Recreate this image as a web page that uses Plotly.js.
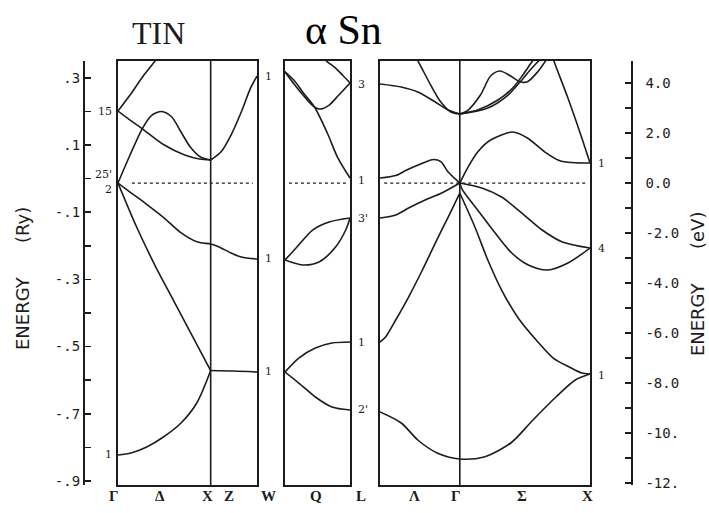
<!DOCTYPE html>
<html>
<head>
<meta charset="utf-8">
<script src="https://cdn.plot.ly/plotly-3.0.1.min.js"></script>
<style>
  body { margin: 0; background: #fff; }
  #plot { width: 709px; height: 513px; }
</style>
</head>
<body>
<div id="plot"></div>
<script>
// band energies in eV (top of valence band = 0), k in units of 2pi/a
// panel 1 : Gamma - Delta - X - Z - W   (X at 1.0, W at 1.5)
var g15up_k = [0, 0.13, 0.28, 0.40, 0.5];
var g15up_E = [2.88, 3.52, 4.32, 4.88, 5.35];
var g15dn_k = [0, 0.13, 0.26, 0.5, 0.72, 0.88, 1.0];
var g15dn_E = [2.88, 2.52, 2.18, 1.52, 1.12, 0.96, 0.92];
var hump_k = [0, 0.13, 0.26, 0.36, 0.47, 0.58, 0.68, 0.78, 0.89, 1.0];
var hump_E = [0, 1.12, 2.16, 2.7, 2.86, 2.64, 2.04, 1.44, 1.04, 0.92];
var zUp_k = [1.0, 1.11, 1.22, 1.33, 1.43, 1.5];
var zUp_E = [0.92, 1.24, 1.92, 2.84, 3.8, 4.28];
var vTop_k = [0, 0.13, 0.32, 0.5, 0.67, 0.86, 1.0, 1.08, 1.22, 1.33, 1.5];
var vTop_E = [0, -0.36, -0.88, -1.4, -1.96, -2.36, -2.44, -2.54, -2.8, -2.96, -3.04];
var vSteep_k = [0, 0.2, 0.4, 0.6, 0.8, 1.0];
var vSteep_E = [0, -1.75, -3.3, -4.7, -6.1, -7.5];
var zFlat_k = [1.0, 1.25, 1.5];
var zFlat_E = [-7.5, -7.52, -7.56];
var dLow_k = [0, 0.14, 0.31, 0.49, 0.68, 0.85, 1.0];
var dLow_E = [-10.88, -10.8, -10.56, -10.16, -9.6, -8.8, -7.5];

// panel 2 : W - Q - L   (L at 0.707)
var qA_k = [0, 0.1, 0.2, 0.32, 0.46, 0.57, 0.707];
var qA_E = [4.45, 4.1, 3.6, 3.04, 2.0, 1.04, 0.2];
var qB_k = [0, 0.1, 0.2, 0.3, 0.38, 0.48, 0.58, 0.707];
var qB_E = [4.45, 3.95, 3.5, 3.1, 2.96, 3.12, 3.5, 4.0];
var qC_k = [0.42, 0.46, 0.55, 0.63, 0.707];
var qC_E = [5.0, 4.85, 4.6, 4.3, 4.0];
var qD_k = [0, 0.13, 0.3, 0.48, 0.707];
var qD_E = [-3.08, -2.56, -1.88, -1.56, -1.4];
var qE_k = [0, 0.19, 0.37, 0.55, 0.66, 0.707];
var qE_E = [-3.08, -3.28, -3.16, -2.56, -1.88, -1.4];
var qF_k = [0, 0.15, 0.33, 0.51, 0.707];
var qF_E = [-7.56, -7.0, -6.6, -6.4, -6.36];
var qG_k = [0, 0.15, 0.33, 0.51, 0.707];
var qG_E = [-7.56, -8.0, -8.56, -8.96, -9.08];

// panel 3 : L - Lambda - Gamma - Sigma - X   (Gamma at 0.866, X at 2.28)
var lc1_k = [0, 0.17, 0.29, 0.48, 0.58, 0.66, 0.74, 0.866];
var lc1_E = [0.2, 0.3, 0.52, 0.82, 0.94, 0.86, 0.44, 0];
var sc1_k = [0.866, 0.95, 1.06, 1.2, 1.44, 1.6, 1.79, 1.96, 2.28];
var sc1_E = [0, 0.6, 1.24, 1.72, 2.04, 1.8, 1.24, 0.88, 0.8];
var lc3_k = [0, 0.23, 0.41, 0.6, 0.74, 0.866];
var lc3_E = [3.96, 3.84, 3.64, 3.24, 2.92, 2.76];
var lc4_k = [0.35, 0.43, 0.55, 0.66, 0.77, 0.866];
var lc4_E = [5.3, 4.76, 3.92, 3.24, 2.84, 2.76];
var sc2_k = [0.866, 0.95, 1.09, 1.2, 1.3, 1.41, 1.52, 1.6, 1.71, 1.8];
var sc2_E = [2.76, 2.9, 3.52, 4.28, 4.48, 4.3, 4.05, 4.05, 4.44, 4.9];
var sc3_k = [0.866, 1.06, 1.28, 1.44, 1.55, 1.64, 1.7];
var sc3_E = [2.76, 2.92, 3.32, 3.8, 4.32, 4.8, 5.1];
var sc4_k = [0.866, 1.17, 1.39, 1.52, 1.63, 1.71, 1.76];
var sc4_E = [2.76, 3.0, 3.52, 4.04, 4.52, 4.84, 5.05];
var sc5_k = [1.86, 1.9, 2.04, 2.18, 2.28];
var sc5_E = [5.2, 4.76, 3.4, 1.92, 0.8];
var lv1_k = [0, 0.17, 0.31, 0.49, 0.67, 0.866];
var lv1_E = [-1.4, -1.28, -1.0, -0.68, -0.4, 0];
var sv1_k = [0.866, 1.105, 1.32, 1.54, 1.76, 1.98, 2.28];
var sv1_E = [0, -0.2, -0.56, -1.2, -1.88, -2.36, -2.6];
var sv2_k = [0.866, 0.89, 1.06, 1.25, 1.43, 1.61, 1.82, 2.04, 2.28];
var sv2_E = [0, -0.24, -1.08, -2.0, -2.8, -3.28, -3.48, -3.2, -2.6];
var lv2_k = [0, 0.06, 0.17, 0.31, 0.46, 0.6, 0.74, 0.866];
var lv2_E = [-6.36, -6.16, -5.48, -4.56, -3.48, -2.4, -1.36, -0.4];
var sv3_k = [0.866, 1.03, 1.17, 1.32, 1.5, 1.7, 1.88, 2.05, 2.19, 2.28];
var sv3_E = [-0.4, -1.76, -3.08, -4.28, -5.4, -6.3, -7.0, -7.35, -7.6, -7.64];
var low_k = [0, 0.23, 0.41, 0.62, 0.866, 1.13, 1.42, 1.66, 1.91, 2.12, 2.28];
var low_E = [-9.16, -9.6, -10.28, -10.8, -11.04, -10.96, -10.4, -9.48, -8.56, -7.88, -7.64];

// axis ticks
var ryTicks = [0.3, 0.2, 0.1, 0, -0.1, -0.2, -0.3, -0.4, -0.5, -0.6, -0.7, -0.8, -0.9];
var ryText = ['.3', '', '.1', '', '-.1', '', '-.3', '', '-.5', '', '-.7', '', '-.9'];
var evTicks = [4, 3, 2, 1, 0, -1, -2, -3, -4, -5, -6, -7, -8, -9, -10, -11, -12];
var evText = ['4.0', '', '2.0', '', '0.0', '', '-2.0', '', '-4.0', '', '-6.0', '', '-8.0', '', '-10.', '', '-12.'];

var ink = '#1c1c1c';
var eRange = [-12.08, 4.88];

function band(k, e, xa, ya) {
	return {
		x: k, y: e, xaxis: xa, yaxis: ya,
		type: 'scatter', mode: 'lines',
		line: {color: ink, width: 1.6, shape: 'spline', smoothing: 0.8},
		hoverinfo: 'skip', showlegend: false
	};
}

var data = [
	band(g15up_k, g15up_E, 'x', 'y'),
	band(g15dn_k, g15dn_E, 'x', 'y'),
	band(hump_k, hump_E, 'x', 'y'),
	band(zUp_k, zUp_E, 'x', 'y'),
	band(vTop_k, vTop_E, 'x', 'y'),
	band(vSteep_k, vSteep_E, 'x', 'y'),
	band(zFlat_k, zFlat_E, 'x', 'y'),
	band(dLow_k, dLow_E, 'x', 'y'),

	band(qA_k, qA_E, 'x2', 'y2'),
	band(qB_k, qB_E, 'x2', 'y2'),
	band(qC_k, qC_E, 'x2', 'y2'),
	band(qD_k, qD_E, 'x2', 'y2'),
	band(qE_k, qE_E, 'x2', 'y2'),
	band(qF_k, qF_E, 'x2', 'y2'),
	band(qG_k, qG_E, 'x2', 'y2'),

	band(lc1_k, lc1_E, 'x3', 'y3'),
	band(sc1_k, sc1_E, 'x3', 'y3'),
	band(lc3_k, lc3_E, 'x3', 'y3'),
	band(lc4_k, lc4_E, 'x3', 'y3'),
	band(sc2_k, sc2_E, 'x3', 'y3'),
	band(sc3_k, sc3_E, 'x3', 'y3'),
	band(sc4_k, sc4_E, 'x3', 'y3'),
	band(sc5_k, sc5_E, 'x3', 'y3'),
	band(lv1_k, lv1_E, 'x3', 'y3'),
	band(sv1_k, sv1_E, 'x3', 'y3'),
	band(sv2_k, sv2_E, 'x3', 'y3'),
	band(lv2_k, lv2_E, 'x3', 'y3'),
	band(sv3_k, sv3_E, 'x3', 'y3'),
	band(low_k, low_E, 'x3', 'y3'),

	// empty traces so that the Ry and eV scale axes get drawn
	{x: [], y: [], xaxis: 'x', yaxis: 'y4', type: 'scatter', mode: 'lines', showlegend: false, hoverinfo: 'skip'},
	{x: [], y: [], xaxis: 'x3', yaxis: 'y5', type: 'scatter', mode: 'lines', showlegend: false, hoverinfo: 'skip'}
];

var yDom = [0.0546, 0.881];

function frameX(dom, rng, ya) {
	return {domain: dom, range: rng, anchor: ya, showline: true, mirror: true,
		linecolor: ink, linewidth: 1.6, ticks: '', showticklabels: false,
		showgrid: false, zeroline: false, fixedrange: true};
}
function frameY(xa) {
	return {domain: yDom, range: eRange, anchor: xa, showline: true, mirror: true,
		linecolor: ink, linewidth: 1.6, ticks: '', showticklabels: false,
		showgrid: false, zeroline: false, fixedrange: true};
}

var tickFont = {family: 'DejaVu Sans Mono', size: 14, color: ink};
var symFont = {family: 'Liberation Serif', size: 15, color: ink};
var lblFont = {family: 'DejaVu Serif', size: 11, color: ink};
var titleFont = {family: 'DejaVu Sans', size: 18, color: ink};

function kLabel(text, xa, k, shift) {
	return {text: '<b>' + text + '</b>', xref: xa, yref: 'paper', x: k, y: 0.033,
		xshift: shift || 0, showarrow: false, font: symFont, xanchor: 'center', yanchor: 'middle'};
}
function ptLabel(text, xa, ya, k, e, side) {
	return {text: text, xref: xa, yref: ya, x: k, y: e, showarrow: false, font: lblFont,
		xanchor: side == 'left' ? 'right' : 'left', xshift: side == 'left' ? -4 : 6, yanchor: 'middle'};
}

var sp = '\u00a0\u00a0\u00a0\u00a0\u00a0\u00a0';

var layout = {
	width: 709, height: 513, autosize: false,
	margin: {l: 0, r: 0, t: 0, b: 0},
	paper_bgcolor: '#fff', plot_bgcolor: 'rgba(0,0,0,0)',
	showlegend: false,
	xaxis: frameX([0.1664, 0.3625], [0, 1.5], 'y'),
	xaxis2: frameX([0.402, 0.4937], [0, 0.707], 'y2'),
	xaxis3: frameX([0.536, 0.8322], [0, 2.28], 'y3'),
	yaxis: frameY('x'),
	yaxis2: frameY('x2'),
	yaxis3: frameY('x3'),
	yaxis4: {overlaying: 'y', anchor: 'free', position: 0.117, side: 'left',
		range: [-0.912, 0.35], tickmode: 'array', tickvals: ryTicks, ticktext: ryText,
		ticks: 'inside', ticklen: 6, tickwidth: 1.5, tickcolor: ink,
		showline: true, linecolor: ink, linewidth: 1.6, showgrid: false, zeroline: false,
		tickfont: tickFont, fixedrange: true},
	yaxis5: {overlaying: 'y', anchor: 'free', position: 0.89, side: 'right',
		range: eRange, tickmode: 'array', tickvals: evTicks, ticktext: evText,
		ticks: 'inside', ticklen: 6, tickwidth: 1.5, tickcolor: ink, ticklabelstandoff: 10,
		showline: true, linecolor: ink, linewidth: 1.6, showgrid: false, zeroline: false,
		tickfont: tickFont, fixedrange: true},
	shapes: [
		{type: 'line', xref: 'x', yref: 'y domain', x0: 1, x1: 1, y0: 0, y1: 1, line: {color: ink, width: 1.6}},
		{type: 'line', xref: 'x3', yref: 'y3 domain', x0: 0.866, x1: 0.866, y0: 0, y1: 1, line: {color: ink, width: 1.6}},
		{type: 'line', xref: 'x domain', yref: 'y', x0: 0.1, x1: 0.97, y0: 0, y1: 0, line: {color: ink, width: 1.3, dash: 'dot'}},
		{type: 'line', xref: 'x2 domain', yref: 'y2', x0: 0.06, x1: 0.95, y0: 0, y1: 0, line: {color: ink, width: 1.3, dash: 'dot'}},
		{type: 'line', xref: 'x3 domain', yref: 'y3', x0: 0.02, x1: 0.98, y0: 0, y1: 0, line: {color: ink, width: 1.3, dash: 'dot'}}
	],
	annotations: [
		{text: 'TIN', xref: 'paper', yref: 'paper', x: 0.223, y: 0.936, showarrow: false,
			xanchor: 'center', yanchor: 'middle',
			font: {family: 'Liberation Serif', size: 32, color: ink}},
		{text: '\u03b1 Sn', xref: 'paper', yref: 'paper', x: 0.485, y: 0.942, showarrow: false,
			xanchor: 'center', yanchor: 'middle',
			font: {family: 'Liberation Serif', size: 42, color: '#000'}},
		{text: 'ENERGY' + sp + '(Ry)', xref: 'paper', yref: 'paper', x: 0.031, y: 0.458,
			xanchor: 'center', yanchor: 'middle',
			textangle: -90, showarrow: false, font: titleFont},
		{text: 'ENERGY' + sp + '(eV)', xref: 'paper', yref: 'paper', x: 0.983, y: 0.448,
			xanchor: 'center', yanchor: 'middle',
			textangle: -90, showarrow: false, font: titleFont},

		kLabel('\u0393', 'x', 0, -4),
		kLabel('\u0394', 'x', 0.5, -4),
		kLabel('X', 'x', 1.0, -3),
		kLabel('Z', 'x', 1.2, 0),
		kLabel('W', 'x', 1.5, 11),
		kLabel('Q', 'x2', 0.354, -2),
		kLabel('L', 'x2', 0.707, 11),
		kLabel('\u039b', 'x3', 0.433, -5),
		kLabel('\u0393', 'x3', 0.866, -4),
		kLabel('\u03a3', 'x3', 1.57, -3),
		kLabel('X', 'x3', 2.28, -3),

		ptLabel('15', 'x', 'y', 0, 2.88, 'left'),
		ptLabel("25'", 'x', 'y', 0, 0.36, 'left'),
		ptLabel('2', 'x', 'y', 0, -0.24, 'left'),
		ptLabel('1', 'x', 'y', 0, -10.88, 'left'),
		ptLabel('1', 'x', 'y', 1.5, 4.28, 'right'),
		ptLabel('1', 'x', 'y', 1.5, -3.0, 'right'),
		ptLabel('1', 'x', 'y', 1.5, -7.52, 'right'),
		ptLabel('3', 'x2', 'y2', 0.707, 3.96, 'right'),
		ptLabel('1', 'x2', 'y2', 0.707, 0.12, 'right'),
		ptLabel("3'", 'x2', 'y2', 0.707, -1.4, 'right'),
		ptLabel('1', 'x2', 'y2', 0.707, -6.36, 'right'),
		ptLabel("2'", 'x2', 'y2', 0.707, -9.08, 'right'),
		ptLabel('1', 'x3', 'y3', 2.28, 0.8, 'right'),
		ptLabel('4', 'x3', 'y3', 2.28, -2.6, 'right'),
		ptLabel('1', 'x3', 'y3', 2.28, -7.68, 'right')
	]
};

Plotly.newPlot('plot', data, layout, {displayModeBar: false, staticPlot: true});
</script>
</body>
</html>
